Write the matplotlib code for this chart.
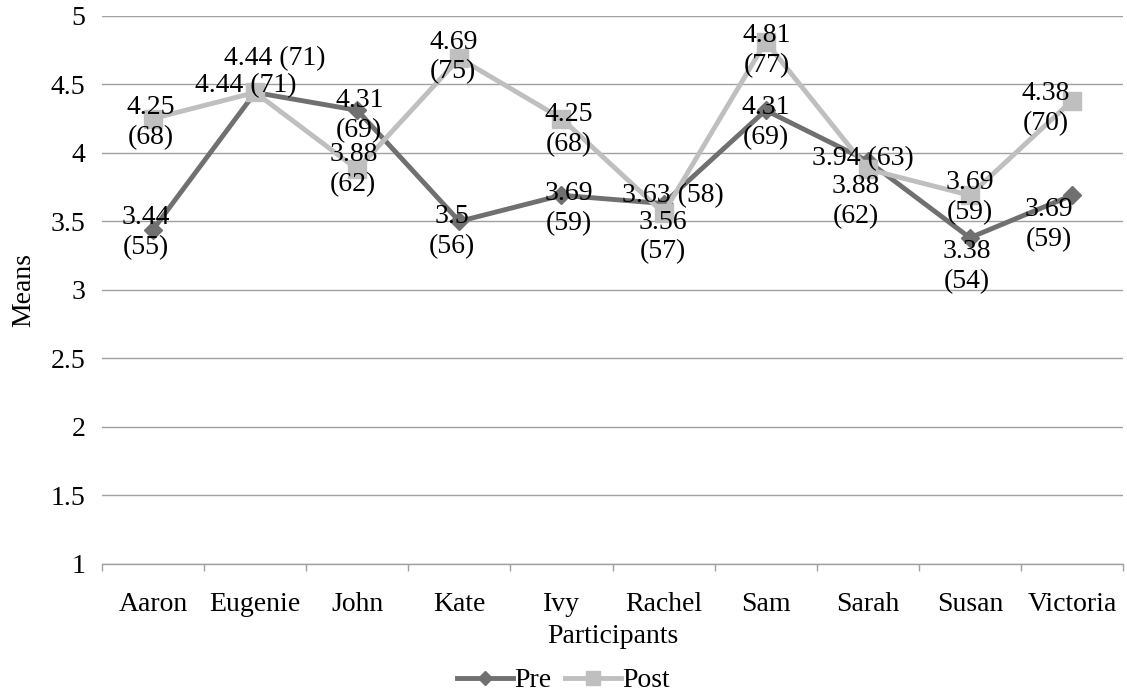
import numpy as np
import matplotlib
matplotlib.use("Agg")
import matplotlib.pyplot as plt
from matplotlib.ticker import FixedLocator

# ---
# data
# ---

participants = ["Aaron", "Eugenie", "John", "Kate", "Ivy",
                "Rachel", "Sam", "Sarah", "Susan", "Victoria"]
pre_means = [3.44, 4.44, 4.31, 3.5, 3.69, 3.63, 4.31, 3.94, 3.38, 3.69]
pre_totals = [55, 71, 69, 56, 59, 58, 69, 63, 54, 59]
post_means = [4.25, 4.44, 3.88, 4.69, 4.25, 3.56, 4.81, 3.88, 3.69, 4.38]
post_totals = [68, 71, 62, 75, 68, 57, 77, 62, 59, 70]

# label placement: (dx, dy) in pixels from the point, and one-line or not
pre_offsets = [(-7, -3), (-9, 7), (2, -5), (-7, -10), (7, -13),
               (9, 8), (0, -12), (-5, 2), (-3, -29), (-23, -29)]
pre_oneline = [False, True, False, False, False, True, False, True, False, False]
post_offsets = [(-2, -4), (20, 34), (-4, 0), (-6, 1), (7, -11),
                (-1, -24), (1, -9), (-12, -32), (0, -2), (-26, -8)]
post_oneline = [False, True, False, False, False, False, False, False, False, False]

# ---
# style
# ---

plt.rcParams["font.family"] = ["Liberation Serif", "DejaVu Serif"]
font_size = 20
pre_colour = "#707070"
post_colour = "#BFBFBF"
grid_colour = "#A0A0A0"

fig = plt.figure(figsize=(11.27, 6.96), dpi=100)
ax = fig.add_axes([0.0905, 0.1897, 0.906, 0.7877])

x = np.arange(len(participants))

ax.plot(x, pre_means, color=pre_colour, lw=3.5, marker="D", ms=9.5,
        label="Pre", zorder=3)
ax.plot(x, post_means, color=post_colour, lw=3.5, marker="s", ms=13.5,
        label="Post", zorder=4)


def add_labels(means, totals, offsets, oneline):
    for xi, m, t, off, one in zip(x, means, totals, offsets, oneline):
        sep = " " if one else "\n"
        ax.annotate(f"{m:g}{sep}({t})", (xi, m), xytext=off,
                    textcoords="offset pixels", ha="center", va="center",
                    fontsize=font_size, linespacing=1.25, zorder=6)


add_labels(pre_means, pre_totals, pre_offsets, pre_oneline)
add_labels(post_means, post_totals, post_offsets, post_oneline)

# axes decoration
ax.set_xlim(-0.5, len(participants) - 0.5)
ax.set_ylim(1, 5)
ax.set_yticks(np.arange(1, 5.01, 0.5))
ax.set_yticklabels(["1", "1.5", "2", "2.5", "3", "3.5", "4", "4.5", "5"])
ax.yaxis.grid(True, color=grid_colour, lw=1.0)
ax.set_axisbelow(True)

ax.set_xticks(x)
ax.set_xticklabels(participants)
ax.xaxis.set_minor_locator(FixedLocator(np.arange(-0.5, len(participants), 1.0)))
ax.tick_params(axis="x", which="major", length=0, pad=20, labelsize=font_size)
ax.tick_params(axis="x", which="minor", length=5, width=1.0, color=grid_colour)
ax.tick_params(axis="y", length=0, pad=12, labelsize=font_size)

for side in ["top", "right", "left"]:
    ax.spines[side].set_visible(False)
ax.spines["bottom"].set_color(grid_colour)
ax.spines["bottom"].set_linewidth(1.0)

ax.set_xlabel("Participants", fontsize=font_size, labelpad=5)
ax.set_ylabel("Means", fontsize=font_size, labelpad=10)

fig.legend(loc="lower center", bbox_to_anchor=(0.5, -0.032), ncol=2,
           frameon=False, fontsize=font_size, handlelength=2.0,
           handletextpad=0.05, columnspacing=0.5, markerscale=0.75)

fig.savefig("out.png", dpi=100)
